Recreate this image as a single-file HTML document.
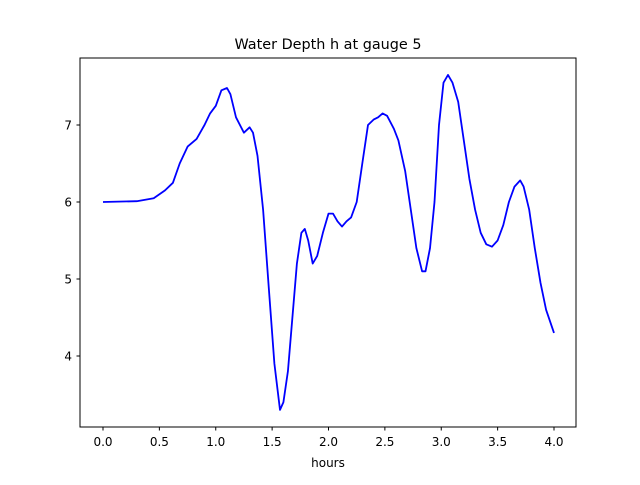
<!DOCTYPE html>
<html><head><meta charset="utf-8"><style>
body{margin:0;background:#fff;font-family:"Liberation Sans","DejaVu Sans",sans-serif}
svg text{font-family:"DejaVu Sans","Liberation Sans",sans-serif}
</style></head><body>
<svg id="chart" width="640" height="480" xmlns="http://www.w3.org/2000/svg">
<rect width="640" height="480" fill="#fff"/>
<text x="328" y="49" font-size="14.4" text-anchor="middle">Water Depth h at gauge 5</text>
<g id="xt"></g><g id="yt"></g>
<polyline id="line" fill="none" stroke="#0000ff" stroke-width="1.8" stroke-linejoin="round"/>
<rect x="80" y="58" width="496" height="369" fill="none" stroke="#000" stroke-width="1"/>
<text x="328" y="467" font-size="12" text-anchor="middle">hours</text>
</svg>
<script>
const times=[0,0.3,0.45,0.55,0.62,0.68,0.75,0.83,0.9,0.95,1.0,1.05,1.1,1.13,1.18,1.25,1.3,1.33,1.37,1.42,1.47,1.52,1.57,1.6,1.64,1.68,1.72,1.76,1.79,1.82,1.86,1.9,1.95,2.0,2.04,2.08,2.12,2.16,2.2,2.25,2.3,2.35,2.4,2.44,2.48,2.52,2.58,2.62,2.68,2.73,2.78,2.83,2.86,2.9,2.94,2.98,3.02,3.06,3.1,3.15,3.2,3.25,3.3,3.35,3.4,3.45,3.5,3.55,3.6,3.65,3.7,3.73,3.78,3.83,3.88,3.93,4.0];
const depths=[6.0,6.01,6.05,6.15,6.25,6.5,6.72,6.82,7.0,7.15,7.25,7.45,7.48,7.4,7.1,6.9,6.97,6.9,6.6,5.9,4.9,3.9,3.3,3.4,3.8,4.5,5.2,5.6,5.65,5.5,5.2,5.3,5.6,5.85,5.85,5.75,5.68,5.75,5.8,6.0,6.5,7.0,7.07,7.1,7.15,7.12,6.95,6.8,6.4,5.9,5.4,5.1,5.1,5.4,6.0,7.0,7.55,7.65,7.55,7.3,6.8,6.3,5.9,5.6,5.45,5.42,5.5,5.7,6.0,6.2,6.28,6.2,5.9,5.4,4.95,4.6,4.3];
const xTicks=[0,0.5,1,1.5,2,2.5,3,3.5,4];
const xTickLabels=["0.0","0.5","1.0","1.5","2.0","2.5","3.0","3.5","4.0"];
const yTicks=[4,5,6,7];
const yTickLabels=["4","5","6","7"];
const X=v=>103+v*112.75, Y=v=>202-(v-6)*77;
const NS="http://www.w3.org/2000/svg";
const line=document.getElementById('line');
line.setAttribute('points',times.map((t,i)=>X(t).toFixed(1)+','+Y(depths[i]).toFixed(1)).join(' '));
const xt=document.getElementById('xt'),yt=document.getElementById('yt');
xTicks.forEach((v,i)=>{
 const l=document.createElementNS(NS,'line');
 
 
 l.setAttribute('x1',X(v));l.setAttribute('x2',X(v));l.setAttribute('y1',427);l.setAttribute('y2',430.5);l.setAttribute('stroke','#000');
 xt.appendChild(l);
 const t=document.createElementNS(NS,'text');
 
 
 t.setAttribute('x',X(v));t.setAttribute('y',446);t.setAttribute('font-size','12');t.setAttribute('text-anchor','middle');
 t.textContent=xTickLabels[i];xt.appendChild(t);
});
yTicks.forEach((v,i)=>{
 const l=document.createElementNS(NS,'line');
 
 
 l.setAttribute('x1',76.5);l.setAttribute('x2',80);l.setAttribute('y1',Y(v));l.setAttribute('y2',Y(v));l.setAttribute('stroke','#000');
 yt.appendChild(l);
 const t=document.createElementNS(NS,'text');
 
 
 t.setAttribute('x',72);t.setAttribute('y',Y(v)+4.5);t.setAttribute('font-size','12');t.setAttribute('text-anchor','end');
 t.textContent=yTickLabels[i];yt.appendChild(t);
});
</script>
</body></html>
